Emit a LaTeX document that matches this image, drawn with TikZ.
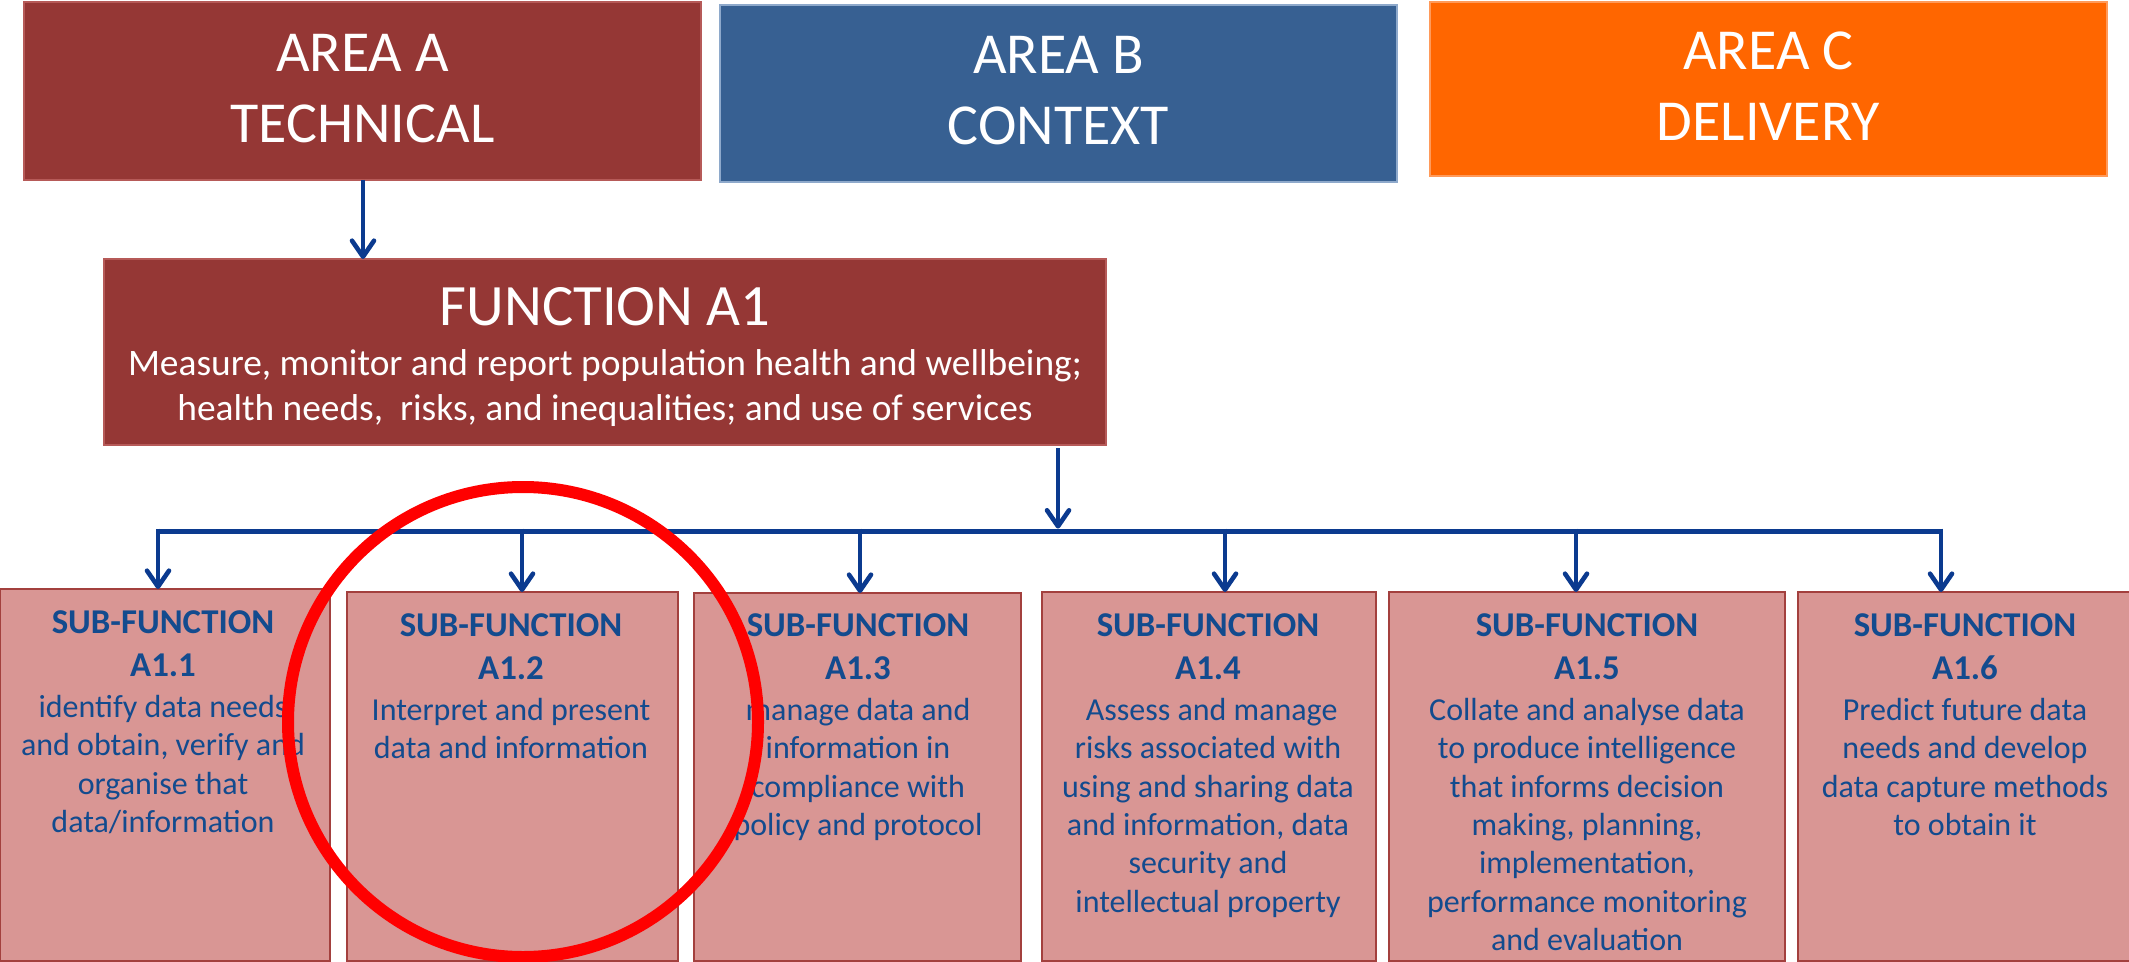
\documentclass[tikz,border=0pt]{standalone}
\usepackage{fontspec}
\setmainfont{Carlito}
\usetikzlibrary{arrows.meta}
\definecolor{areaAcol}{HTML}{953735}
\definecolor{areaAedge}{HTML}{B65A58}
\definecolor{areaBcol}{HTML}{376092}
\definecolor{areaBedge}{HTML}{8EA9CB}
\definecolor{areaCcol}{HTML}{FF6600}
\definecolor{areaCedge}{HTML}{FF9A5A}
\definecolor{subfill}{HTML}{D99694}
\definecolor{subedge}{HTML}{A3403E}
\definecolor{subtext}{HTML}{134B8E}
\definecolor{arrowblue}{HTML}{0B3A8F}
\newcommand\mkbox[7]{%
  \node[#2, anchor=north west, inner sep=0pt, outer sep=0pt,
        minimum width={(#5-#3)*0.5pt}, minimum height={(#6-#4)*0.5pt}] (#1) at (#3,#4) {#7};}
\begin{document}
\begin{tikzpicture}[x=0.5pt,y=-0.5pt,
  areabox/.style={line width=0.6pt, text=white, align=center, text depth=3pt,
    font=\fontsize{29pt}{35.5pt}\selectfont},
  subbox/.style={fill=subfill, draw=subedge, line width=1pt},
  subtxt/.style={anchor=north, inner sep=0pt, align=center, text=subtext,
    font=\fontsize{16pt}{19.2pt}\selectfont},
  sfhead/.style={font=\fontsize{17.4pt}{21pt}\selectfont\bfseries},
  arr/.style={draw=arrowblue, line width=2.3pt,
    -{Straight Barb[length=8pt,width=11pt,line width=2.3pt,round]}},
  bus/.style={draw=arrowblue, line width=2.5pt}]
\useasboundingbox (0,0) rectangle (2129,962);
% areas
\mkbox{areaA}{areabox, fill=areaAcol, draw=areaAedge}{24}{2}{701}{180}{AREA A\\TECHNICAL}
\mkbox{areaB}{areabox, fill=areaBcol, draw=areaBedge}{720}{5}{1397}{182}{AREA B\\CONTEXT}
\mkbox{areaC}{areabox, fill=areaCcol, draw=areaCedge}{1430}{2}{2107}{176}{AREA C\\DELIVERY}
% function
\mkbox{func}{fill=areaAcol, draw=areaAedge, line width=0.6pt}{104}{259}{1106}{445}{}
\node[anchor=base, inner sep=0pt, text=white, font=\fontsize{29.3pt}{35pt}\selectfont]
  (functitle) at (605,326) {FUNCTION A1};
\node[anchor=base, inner sep=0pt, text=white, font=\fontsize{18.7pt}{22.5pt}\selectfont]
  (funcbody1) at (605,375) {Measure, monitor and report population health and wellbeing;};
\node[anchor=base, inner sep=0pt, text=white, font=\fontsize{18.7pt}{22.5pt}\selectfont]
  (funcbody2) at (605,420) {health needs,\ \ risks, and inequalities; and use of services};
% sub-functions
\mkbox{sf1}{subbox}{0}{589}{330}{961}{}
\mkbox{sf2}{subbox}{347}{592}{678}{961}{}
\mkbox{sf3}{subbox}{694}{593}{1021}{961}{}
\mkbox{sf4}{subbox}{1042}{592}{1376}{961}{}
\mkbox{sf5}{subbox}{1389}{592}{1785}{961}{}
\mkbox{sf6}{subbox}{1798}{592}{2134}{961}{}
\newcommand\sfhd[1]{{\fontsize{17.4pt}{21pt}\selectfont\bfseries SUB-FUNCTION}\\[2.3pt]{\fontsize{17.4pt}{21pt}\selectfont\bfseries #1}\\[1.3pt]}
\node[subtxt] (t1) at (163,610) {\sfhd{A1.1}identify data needs\\and obtain, verify and\\organise that\\data/information};
\node[subtxt] (t2) at (511,613) {\sfhd{A1.2}Interpret and present\\data and information};
\node[subtxt] (t3) at (858,613) {\sfhd{A1.3}manage data and\\information in\\compliance with\\policy and protocol};
\node[subtxt] (t4) at (1208,613) {\sfhd{A1.4}\ Assess and manage\\risks associated with\\using and sharing data\\and information, data\\security and\\intellectual property};
\node[subtxt] (t5) at (1587,613) {\sfhd{A1.5}Collate and analyse data\\to produce intelligence\\that informs decision\\making, planning,\\implementation,\\performance monitoring\\and evaluation};
\node[subtxt] (t6) at (1965,613) {\sfhd{A1.6}Predict future data\\needs and develop\\data capture methods\\to obtain it};
% connectors
\coordinate (busy) at (0,531);
\coordinate (xa) at (363,0);
\coordinate (xf) at (1058,0);
\coordinate (d1) at (158,0);
\coordinate (d2) at (522,0);
\coordinate (d3) at (860,0);
\coordinate (d4) at (1225,0);
\coordinate (d5) at (1576,0);
\coordinate (d6) at (1941,0);
\draw[arr] (areaA.south -| xa) -- (func.north -| xa);
\draw[bus] (busy -| d1) -- (busy -| d6);
\draw[arr] ([yshift=-1.5pt]func.south -| xf) -- ([yshift=1.2pt]busy -| xf);
\foreach \d/\s in {d1/sf1,d2/sf2,d3/sf3,d4/sf4,d5/sf5,d6/sf6}
  \draw[arr] ([yshift=1.2pt]busy -| \d) -- (\s.north -| \d);
% highlight circle
\draw[red, line width=6pt] (523,722) circle [radius=235];
\end{tikzpicture}
\end{document}
